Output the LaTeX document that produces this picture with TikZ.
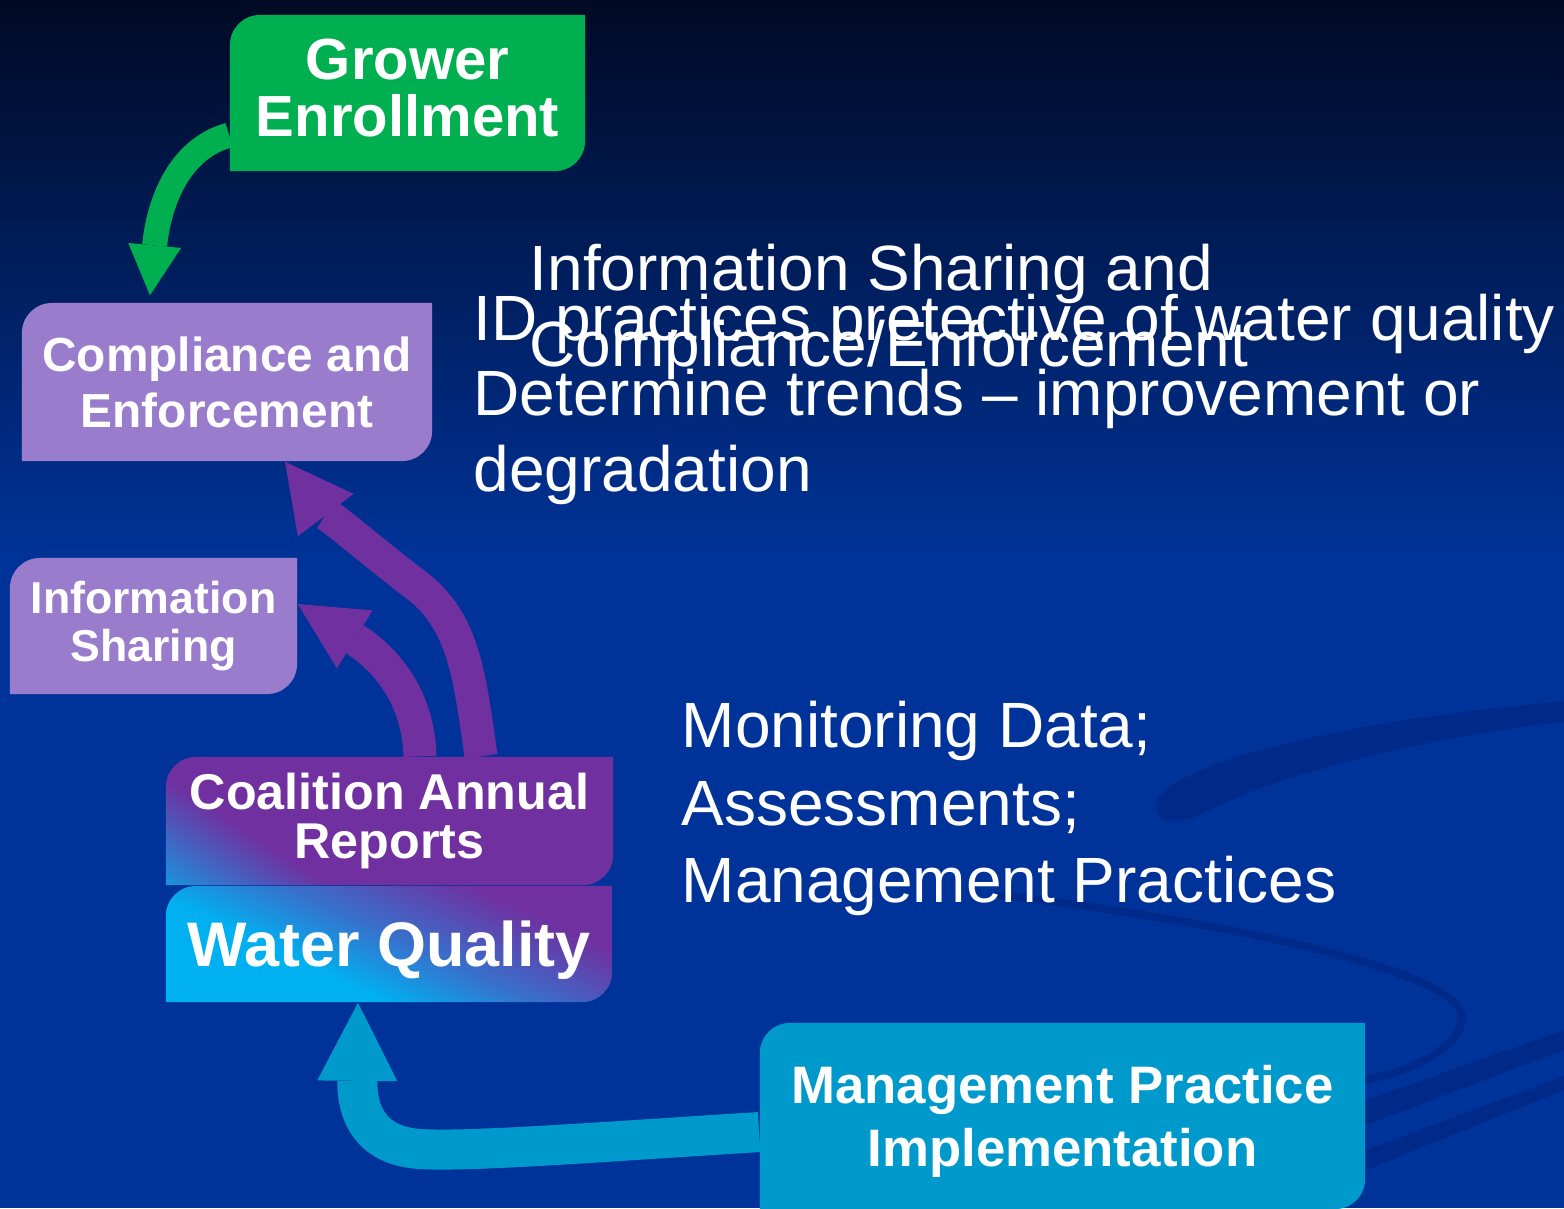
\documentclass[tikz,border=0pt]{standalone}
\usepackage{fontspec}
\setmainfont{Liberation Sans}
\usetikzlibrary{arrows.meta}

\definecolor{bgtop}{RGB}{0,10,36}
\definecolor{bgblue}{RGB}{0,51,153}
\definecolor{bgdark}{RGB}{0,42,138}
\definecolor{grn}{RGB}{0,176,80}
\definecolor{lav}{RGB}{154,124,204}
\definecolor{purp}{RGB}{112,48,160}
\definecolor{cyn}{RGB}{0,176,240}
\definecolor{midblue}{RGB}{56,112,204}
\definecolor{mgblue}{RGB}{0,153,204}

\pgfdeclareverticalshading{coalshade}{100bp}{color(0bp)=(cyn); color(10bp)=(cyn); color(33bp)=(purp); color(100bp)=(purp)}
\pgfdeclareverticalshading{watershade}{100bp}{color(0bp)=(cyn); color(38bp)=(cyn); color(52bp)=(midblue); color(70bp)=(purp); color(100bp)=(purp)}

\pgfdeclarelayer{backdrop}
\pgfdeclarelayer{flows}
\pgfsetlayers{backdrop,flows,main}

\tikzset{
  diagbox/.style={inner sep=0pt, align=center, text=white,
    path picture={\path[#1] (path picture bounding box.south west)
      -- ([yshift=-0.3cm]path picture bounding box.north west)
      arc[start angle=180, end angle=90, radius=0.3cm]
      -- (path picture bounding box.north east)
      -- ([yshift=0.3cm]path picture bounding box.south east)
      arc[start angle=0, end angle=-90, radius=0.3cm] -- cycle;}},
  freetext/.style={inner sep=0pt, align=left, text=white,
    font=\fontsize{18.2}{21.6}\selectfont},
  swirl/.style={draw=bgdark, line width=#1, line cap=round},
}

\begin{document}
\begin{tikzpicture}[x=0.01cm, y=-0.01cm]
\useasboundingbox (0,0) rectangle (1564,1208);

% boxes
\node[diagbox={fill=grn}, minimum width=3.55cm, minimum height=1.56cm, text depth=0.11cm,
  font=\bfseries\fontsize{16.5}{16.2}\selectfont] (grower) at (407.5,93) {Grower\\Enrollment};
\node[diagbox={fill=lav}, minimum width=4.1cm, minimum height=1.58cm,
  font=\bfseries\fontsize{13.6}{15.9}\selectfont] (comp) at (227,382) {Compliance and\\Enforcement};
\node[diagbox={fill=lav}, minimum width=2.87cm, minimum height=1.36cm,
  font=\bfseries\fontsize{12.7}{13.7}\selectfont] (info) at (153.5,626) {Information\\Sharing};
\node[diagbox={shading=coalshade, shading angle=-33},
  minimum width=4.47cm, minimum height=1.28cm,
  font=\bfseries\fontsize{14.3}{13.7}\selectfont] (coal) at (389.5,821) {Coalition Annual\\Reports};
\node[diagbox={shading=watershade, shading angle=-25},
  minimum width=4.46cm, minimum height=1.16cm, text depth=0pt,
  font=\bfseries\fontsize{17.9}{17.9}\selectfont] (water) at (389,944) {Water Quality};
\node[diagbox={fill=mgblue}, minimum width=6.05cm, minimum height=1.86cm, text depth=0pt,
  font=\bfseries\fontsize{15}{17.9}\selectfont] (mgmt) at (1062.5,1116) {Management Practice\\Implementation};

% free text
\node[freetext, anchor=base west] (sharetxt) at (529,366) {Information Sharing and\\Compliance/Enforcement};
\node[freetext, anchor=base west, font=\fontsize{18.2}{21.4}\selectfont] (trendtxt) at (473,491)
  {ID practices pretective of water quality\\Determine trends – improvement or\\degradation};
\node[freetext, anchor=base west, font=\fontsize{18.2}{21.9}\selectfont] (datatxt) at (681,902)
  {Monitoring Data;\\Assessments;\\Management Practices};

% background
\begin{pgfonlayer}{backdrop}
\shade[top color=bgtop, bottom color=bgblue] (0,0) rectangle (1564,560);
\fill[bgblue] (0,559) rectangle (1564,1208);
\fill[bgdark] (1564,701) .. controls (1350,720) and (1180,760) .. (1157,800)
  .. controls (1150,822) and (1175,828) .. (1205,812)
  .. controls (1300,765) and (1450,735) .. (1564,722) -- cycle;
\draw[swirl=0.08cm] (1000,895) .. controls (1250,925) and (1470,975) .. (1462,1020)
  .. controls (1455,1058) and (1390,1075) .. (1366,1080);
\fill[bgdark] (1366,1100) -- (1564,1030) -- (1564,1050) -- (1366,1125) -- cycle;
\fill[bgdark] (1366,1150) -- (1564,1076) -- (1564,1090) -- (1366,1170) -- cycle;
\end{pgfonlayer}

% arrows
\begin{pgfonlayer}{flows}
\draw[grn, line width=0.25cm, -{Triangle[length=0.5cm, width=0.53cm, line width=0pt]}]
  ([yshift=-0.42cm]grower.west) .. controls (175,150) and (158,210) .. ([xshift=-0.77cm, yshift=0.07cm]comp.north);
\draw[purp, line width=0.33cm, -{Triangle[length=0.67cm, width=0.7cm, line width=0pt]}]
  ([xshift=0.915cm]coal.north) .. controls (470,680) and (465,625) .. (420,588)
  .. controls (380,558) and (318,505) .. ([xshift=0.58cm]comp.south);
\draw[purp, line width=0.33cm, -{Triangle[length=0.67cm, width=0.68cm, line width=0pt]}]
  ([xshift=0.305cm]coal.north) .. controls (418,685) and (372,650) .. ([yshift=0.22cm]info.east);
\draw[mgblue, line width=0.4cm, -{Triangle[length=0.78cm, width=0.8cm, line width=0pt]}]
  ([yshift=-0.16cm]mgmt.west) .. controls (600,1142) and (470,1152) .. (420,1149)
  .. controls (372,1146) and (357,1115) .. ([xshift=-0.31cm]water.south);
\end{pgfonlayer}
\end{tikzpicture}
\end{document}
